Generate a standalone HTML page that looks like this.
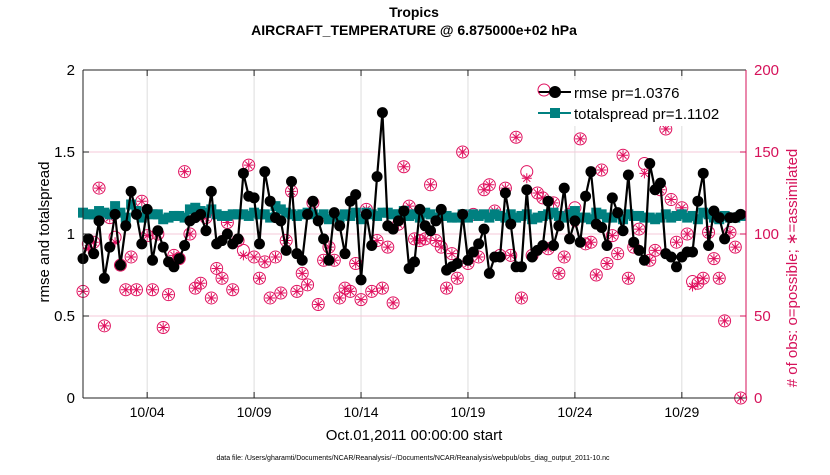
<!DOCTYPE html>
<html><head><meta charset="utf-8"><style>
body{margin:0;background:#fff;width:830px;height:470px;overflow:hidden}
svg text{font-family:"Liberation Sans",Arial,sans-serif}
</style></head><body>
<svg id="chart" width="830" height="470" viewBox="0 0 830 470" xmlns="http://www.w3.org/2000/svg">
<rect width="830" height="470" fill="#fff"/>
<text x="414" y="17" text-anchor="middle" font-size="14" font-weight="bold">Tropics</text>
<text x="414" y="35" text-anchor="middle" font-size="14" font-weight="bold">AIRCRAFT_TEMPERATURE @ 6.875000e+02 hPa</text>
<g id="grid"></g><g id="series"></g><g id="axes"></g>
<text x="414" y="440" text-anchor="middle" font-size="15">Oct.01,2011 00:00:00 start</text>
<text x="413" y="460" text-anchor="middle" font-size="7">data file: /Users/gharamti/Documents/NCAR/Reanalysis/~/Documents/NCAR/Reanalysis/webpub/obs_diag_output_2011-10.nc</text>
<text transform="translate(49,232) rotate(-90)" text-anchor="middle" font-size="15">rmse and totalspread</text>
<text transform="translate(797,268) rotate(-90)" text-anchor="middle" font-size="15" fill="#d6125a"># of obs: o=possible; ∗=assimilated</text>
<g>
<rect x="533" y="80" width="204" height="46" fill="#fff"/>
<g>
<line x1="538" y1="92" x2="571" y2="92" stroke="#000" stroke-width="2"/>
<circle cx="544" cy="90" r="6" fill="none" stroke="#e0115f"/>
<circle cx="555" cy="92" r="6" fill="#000"/>
<text x="574" y="98" font-size="15">rmse pr=1.0376</text></g>
<g>
<line x1="538" y1="113" x2="571" y2="113" stroke="#008080" stroke-width="2"/>
<rect x="550" y="108" width="10" height="10" fill="#008080"/>
<text x="574" y="119" font-size="15">totalspread pr=1.1102</text></g>
</g>
</svg>
<script>
const rmse=[0.85,0.97,0.88,1.08,0.73,0.92,1.12,0.81,1.05,1.26,1.12,0.94,1.15,0.84,1.02,0.92,0.83,0.80,0.85,0.93,1.08,1.10,1.12,1.02,1.26,0.94,0.96,1.00,0.94,0.97,1.37,1.23,1.22,0.94,1.38,1.20,1.10,1.08,0.90,1.32,0.88,0.84,1.12,1.20,1.08,0.97,0.84,1.13,1.05,0.88,1.20,1.24,0.72,1.12,0.93,1.35,1.74,1.05,1.03,1.08,1.14,0.79,0.83,1.15,1.05,1.02,1.08,1.15,0.78,0.80,0.82,1.12,0.84,0.89,0.94,1.03,0.76,0.86,0.86,1.25,1.06,0.80,0.80,1.27,0.86,0.90,0.93,1.20,0.93,1.05,1.28,0.97,1.08,0.95,1.23,1.38,1.06,1.04,0.93,1.22,1.13,1.02,1.36,0.95,0.90,0.84,1.43,1.27,1.31,0.88,0.86,0.80,0.86,0.89,0.89,1.20,1.37,0.93,1.14,1.10,0.97,1.10,1.10,1.12];
const spread=[1.13,1.12,1.12,1.14,1.13,1.12,1.17,1.13,1.10,1.18,1.14,1.10,1.13,1.12,1.12,1.09,1.10,1.11,1.11,1.10,1.15,1.16,1.14,1.13,1.15,1.12,1.11,1.11,1.12,1.12,1.12,1.11,1.13,1.12,1.12,1.10,1.17,1.15,1.13,1.12,1.11,1.12,1.13,1.12,1.10,1.12,1.09,1.12,1.10,1.12,1.11,1.13,1.09,1.13,1.12,1.11,1.13,1.13,1.12,1.12,1.14,1.11,1.12,1.10,1.13,1.12,1.10,1.11,1.11,1.10,1.10,1.12,1.10,1.12,1.11,1.12,1.10,1.12,1.11,1.10,1.12,1.10,1.11,1.12,1.09,1.10,1.11,1.12,1.13,1.11,1.10,1.12,1.14,1.10,1.10,1.09,1.13,1.12,1.10,1.10,1.12,1.09,1.12,1.11,1.11,1.10,1.10,1.09,1.10,1.12,1.10,1.11,1.12,1.10,1.11,1.09,1.13,1.12,1.10,1.09,1.11,1.10,1.10,1.11];
const possible=[65,94,95,128,44,110,98,81,66,86,66,120,99,66,100,43,63,87,85,138,100,67,70,110,61,79,73,107,66,96,90,142,86,73,83,61,86,64,96,126,65,76,69,119,57,84,92,84,61,67,65,82,60,115,65,96,67,92,58,106,141,117,97,96,97,130,96,92,67,88,73,150,82,112,86,127,130,114,87,128,87,159,61,138,87,125,122,91,119,76,86,112,116,158,94,95,75,139,82,99,88,148,73,92,103,143,84,90,127,164,121,95,116,100,71,70,73,101,85,73,47,101,92,0];
const assimilated=[65,91,95,128,44,110,95,81,66,86,66,120,99,66,100,43,63,87,85,138,100,67,70,110,61,79,73,107,66,96,87,142,86,73,83,61,86,64,96,126,65,76,69,119,57,84,92,84,61,67,65,82,60,115,65,96,67,92,58,106,141,117,97,96,97,130,96,92,67,88,73,150,82,112,86,127,130,114,87,128,87,159,61,134,87,125,122,91,119,76,86,112,107,158,94,95,75,139,82,99,88,148,73,92,103,137,84,90,127,164,121,95,116,100,68,70,73,101,85,73,47,101,92,0];
const yTicks=[0,0.5,1,1.5,2];
const yTickLabels=["0","0.5","1","1.5","2"];
const y2Ticks=[0,50,100,150,200];
const xTickDays=[3,8,13,18,23,28];
const xTickLabels=["10/04","10/09","10/14","10/19","10/24","10/29"];
const NS="http://www.w3.org/2000/svg";
const L=83,R=746,T=70,B=398,DAYS=31;
const xs=d=>L+(R-L)*d/DAYS;
const xi=i=>xs(i*0.25);
const ys=v=>B-(B-T)*v/2;
const y2=v=>B-(B-T)*v/200;
function mk(tag,attrs,parent){const e=document.createElementNS(NS,tag);for(const k in attrs)e.setAttribute(k,attrs[k]);parent.appendChild(e);return e;}
const grid=document.getElementById('grid'),ser=document.getElementById('series'),ax=document.getElementById('axes');
const PINK="#e0115f";
xTickDays.forEach((d,k)=>{
 const g=mk('line',{x1:xs(d),x2:xs(d),y1:T,y2:B,stroke:'#ddd','stroke-width':1},grid);
 
 
 mk('line',{x1:xs(d),x2:xs(d),y1:B,y2:B-6,stroke:'#222'},ax);
 mk('line',{x1:xs(d),x2:xs(d),y1:T,y2:T+6,stroke:'#222'},ax);
 const t=mk('text',{x:xs(d),y:B+19,'text-anchor':'middle','font-size':14},ax);
 t.textContent=xTickLabels[k];
 
 
});
y2Ticks.forEach(v=>{
 if(v>0&&v<200){const g=mk('line',{x1:L,x2:R,y1:y2(v),y2:y2(v),stroke:'#f6c9d8','stroke-width':1},grid);
 
 }
 mk('line',{x1:R,x2:R-6,y1:y2(v),y2:y2(v),stroke:'#d6125a'},ax);
 const t=mk('text',{x:R+8,y:y2(v)+5,'font-size':15,fill:'#d6125a'},ax);
 t.textContent=String(v);
 
 
});
yTicks.forEach((v,k)=>{
 mk('line',{x1:L,x2:L+6,y1:ys(v),y2:ys(v),stroke:'#222'},ax);
 const t=mk('text',{x:L-8,y:ys(v)+5,'text-anchor':'end','font-size':15},ax);
 t.textContent=yTickLabels[k];
 
 
});
mk('line',{x1:L,x2:R,y1:T,y2:T,stroke:'#222'},ax);
mk('line',{x1:L,x2:R,y1:B,y2:B,stroke:'#222'},ax);
mk('line',{x1:L,x2:L,y1:T,y2:B,stroke:'#222'},ax);
mk('line',{x1:R,x2:R,y1:T,y2:B,stroke:'#d6125a'},ax);
possible.forEach((v,i)=>{
 const c=mk('circle',{cx:xi(i),cy:y2(v),r:6,fill:'none',stroke:PINK,'stroke-width':1},ser);
 
 
});
assimilated.forEach((v,i)=>{
 const x=xi(i),y=y2(v),r=5;
 const p=mk('path',{d:`M${x-r} ${y}H${x+r}M${x} ${y-r}V${y+r}M${x-3.5} ${y-3.5}L${x+3.5} ${y+3.5}M${x-3.5} ${y+3.5}L${x+3.5} ${y-3.5}`,stroke:PINK,'stroke-width':1,fill:'none'},ser);
 
 
});
const sp=mk('polyline',{points:spread.map((v,i)=>xi(i)+','+ys(v)).join(' '),fill:'none',stroke:'#008080','stroke-width':2},ser);


spread.forEach((v,i)=>{
 const r=mk('rect',{x:xi(i)-5,y:ys(v)-5,width:10,height:10,fill:'#008080'},ser);
 
 
});
const rl=mk('polyline',{points:rmse.map((v,i)=>xi(i)+','+ys(v)).join(' '),fill:'none',stroke:'#000','stroke-width':2.2},ser);


rmse.forEach((v,i)=>{
 const c=mk('circle',{cx:xi(i),cy:ys(v),r:5.5,fill:'#000'},ser);
 
 
});
</script>
</body></html>
